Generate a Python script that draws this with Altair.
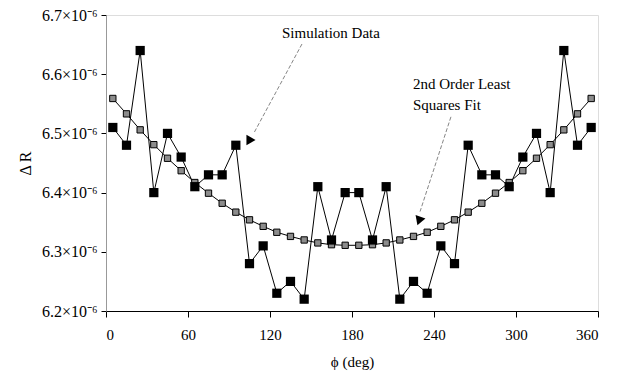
import altair as alt
import pandas as pd

phi = [5, 15, 25, 35, 45, 55, 65, 75, 85, 95, 105, 115, 125, 135, 145, 155, 165, 175,
       185, 195, 205, 215, 225, 235, 245, 255, 265, 275, 285, 295, 305, 315, 325, 335, 345, 355]
sim = [6.51, 6.48, 6.64, 6.40, 6.50, 6.46, 6.41, 6.43, 6.43, 6.48, 6.28, 6.31, 6.23, 6.25, 6.22, 6.41, 6.32, 6.40,
       6.40, 6.32, 6.41, 6.22, 6.25, 6.23, 6.31, 6.28, 6.48, 6.43, 6.43, 6.41, 6.46, 6.50, 6.40, 6.64, 6.48, 6.51]
fit = [6.559, 6.533, 6.506, 6.481, 6.458, 6.437, 6.417, 6.399, 6.382, 6.367, 6.354, 6.343, 6.333, 6.326, 6.320, 6.315, 6.312, 6.311,
       6.311, 6.312, 6.315, 6.320, 6.326, 6.333, 6.343, 6.354, 6.367, 6.382, 6.399, 6.417, 6.437, 6.458, 6.481, 6.506, 6.533, 6.559]

y_ticks = [6.2, 6.3, 6.4, 6.5, 6.6, 6.7]
x_ticks = [0, 60, 120, 180, 240, 300, 360]

arrow_x = [143.4, 252.4]
arrow_y = [6.651, 6.528]
arrow_x2 = [108.3, 229.8]
arrow_y2 = [6.501, 6.368]
head_x = [106.1, 229.0]
head_y = [6.489, 6.352]
head_shape = ["triangle-right", "triangle-down"]
head_angle = [0, 20]

label_text = ["Simulation Data", "2nd Order Least", "Squares  Fit"]
label_x = [128.8, 224.6, 224.6]
label_y = [6.670, 6.583, 6.548]

FONT = "Liberation Serif"

df = pd.DataFrame({"phi": phi, "sim": sim, "fit": fit})
arrows = pd.DataFrame({"x": arrow_x, "y": arrow_y, "x2": arrow_x2, "y2": arrow_y2})
heads = pd.DataFrame({"x": head_x, "y": head_y, "shape": head_shape, "angle": head_angle})
labels = pd.DataFrame({"text": label_text, "x": label_x, "y": label_y})

xs = alt.Scale(domain=[0, 360], nice=False, zero=False)
ys = alt.Scale(domain=[6.2, 6.7], nice=False, zero=False)

xaxis = alt.Axis(values=x_ticks, title="ϕ  (deg)", grid=False, domainColor="black", tickColor="black",
                 tickSize=6, labelPadding=10, labelFont=FONT, labelFontSize=15, labelColor="black",
                 titleFont=FONT, titleFontSize=15, titleFontWeight="normal", titleColor="black", titlePadding=12)
yaxis = alt.Axis(values=y_ticks, title="Δ R", grid=False, domainColor="#999999", tickColor="black",
                 tickSize=5, labelPadding=4,
                 labelExpr="format(datum.value, '.1f') + '×10⁻⁶'",
                 labelFont=FONT, labelFontSize=16, labelColor="black",
                 titleFont=FONT, titleFontSize=16, titleFontWeight="normal", titleColor="black", titlePadding=8)

base = alt.Chart(df)

sim_line = base.mark_line(color="black", strokeWidth=1).encode(
    x=alt.X("phi:Q", scale=xs, axis=xaxis), y=alt.Y("sim:Q", scale=ys, axis=yaxis))
fit_line = base.mark_line(color="black", strokeWidth=1).encode(
    x=alt.X("phi:Q", scale=xs), y=alt.Y("fit:Q", scale=ys))
sim_pts = base.mark_point(shape="square", filled=True, color="black", size=85, opacity=1).encode(
    x=alt.X("phi:Q", scale=xs), y=alt.Y("sim:Q", scale=ys))
fit_pts = base.mark_point(shape="square", filled=True, fill="#8c8c8c", stroke="black", strokeWidth=1,
                          size=40, opacity=1).encode(
    x=alt.X("phi:Q", scale=xs), y=alt.Y("fit:Q", scale=ys))

arrow_rules = alt.Chart(arrows).mark_rule(color="#666666", strokeWidth=0.8, strokeDash=[4, 2]).encode(
    x=alt.X("x:Q", scale=xs), y=alt.Y("y:Q", scale=ys), x2="x2:Q", y2="y2:Q")
arrow_heads = alt.Chart(heads).mark_point(filled=True, color="black", size=110, opacity=1).encode(
    x=alt.X("x:Q", scale=xs), y=alt.Y("y:Q", scale=ys),
    shape=alt.Shape("shape:N", scale=None), angle=alt.Angle("angle:Q", scale=None))
texts = alt.Chart(labels).mark_text(font=FONT, fontSize=15, color="black", align="left", baseline="middle").encode(
    x=alt.X("x:Q", scale=xs), y=alt.Y("y:Q", scale=ys), text="text:N")

chart = alt.layer(sim_line, fit_line, fit_pts, sim_pts, arrow_rules, arrow_heads, texts).properties(
    width=492, height=296,
    autosize=alt.AutoSizeParams(type="none"),
    padding={"left": 106, "top": 15, "right": 22, "bottom": 70},
).configure_view(stroke=None).configure(background="white")

chart.save("out.html", embed_options={"renderer": "svg", "actions": False})
